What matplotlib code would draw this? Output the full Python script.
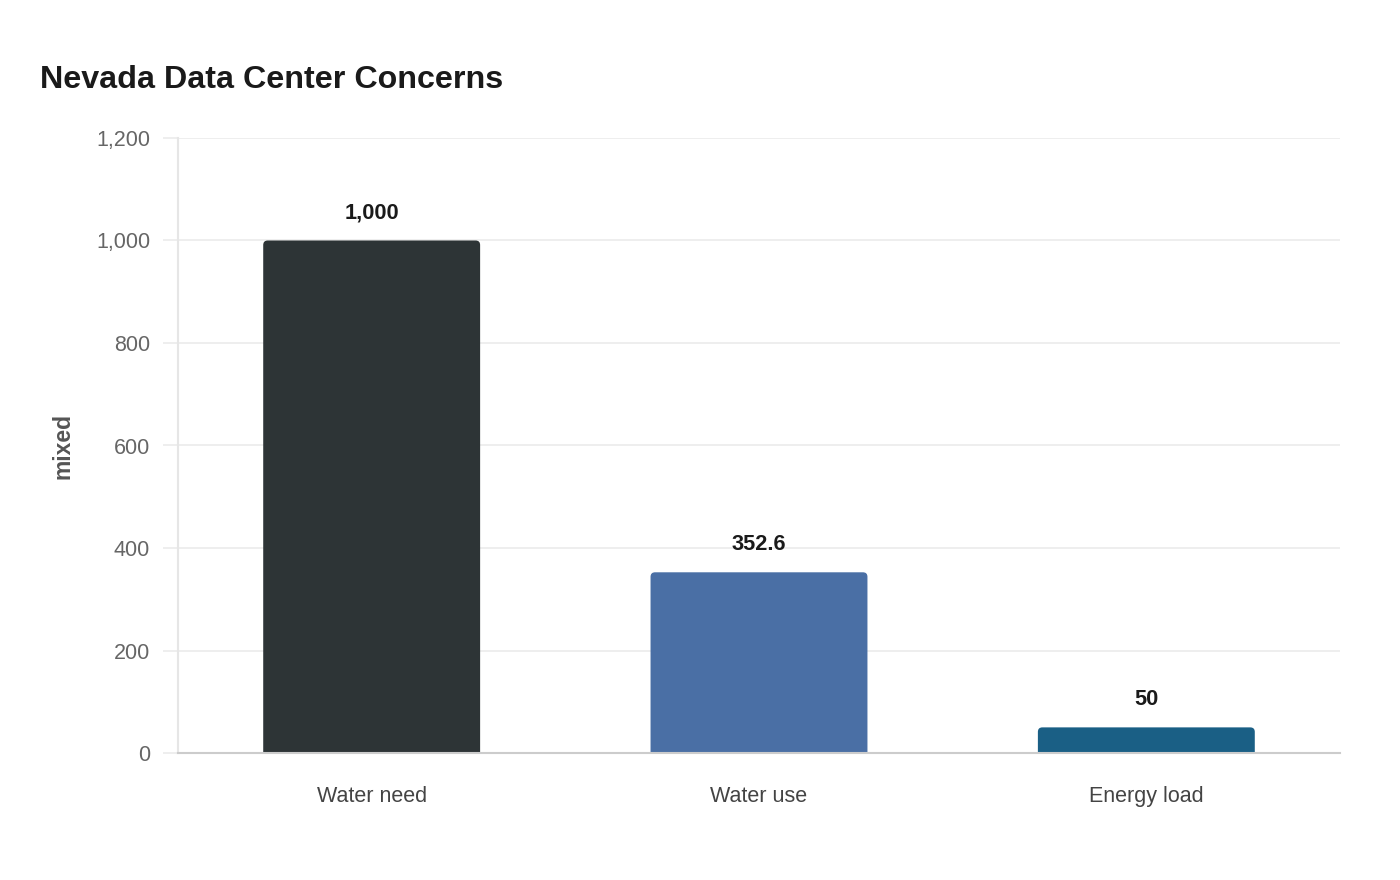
import matplotlib
matplotlib.use("Agg")
import matplotlib.pyplot as plt
from matplotlib.patches import PathPatch
from matplotlib.path import Path

plt.rcParams['font.family'] = ['Liberation Sans', 'DejaVu Sans']

categories = ["Water need", "Water use", "Energy load"]
values = [1000, 352.6, 50]
value_labels = ["1,000", "352.6", "50"]
colors = ["#2d3436", "#4a6fa5", "#1a5f85"]
yticks = [0, 200, 400, 600, 800, 1000, 1200]
ytick_labels = ["0", "200", "400", "600", "800", "1,000", "1,200"]

W, H = 1400, 880
fig = plt.figure(figsize=(14, 8.8), dpi=100)
ax = fig.add_axes([178 / W, 1 - 753 / H, (1340 - 178) / W, (753 - 138) / H])

ax.set_xlim(-0.5, len(categories) - 0.5)
ax.set_ylim(0, 1200)

bar_w = 0.56
bars = ax.bar(range(len(categories)), values, width=bar_w, color=colors, alpha=0)

# rounded top corners only
xpp = len(categories) / (1340 - 178)
ypp = 1200 / (753 - 138)
r_px = 4.5
rx, ry = r_px * xpp, r_px * ypp
for b, c in zip(bars, colors):
    x0, w, h = b.get_x(), b.get_width(), b.get_height()
    x1 = x0 + w
    verts = [(x0, 0), (x0, h - ry), (x0, h), (x0 + rx, h), (x1 - rx, h),
             (x1, h), (x1, h - ry), (x1, 0), (x0, 0)]
    codes = [Path.MOVETO, Path.LINETO, Path.CURVE3, Path.CURVE3, Path.LINETO,
             Path.CURVE3, Path.CURVE3, Path.LINETO, Path.CLOSEPOLY]
    ax.add_patch(PathPatch(Path(verts, codes), fc=c, ec="none", zorder=3))

for i, (v, lab) in enumerate(zip(values, value_labels)):
    ax.annotate(lab, (i, v), xytext=(0, 17), textcoords="offset pixels",
                ha="center", va="bottom", fontsize=15.7, fontweight="bold",
                color="#1a1a1a", zorder=4)

ax.set_xticks(range(len(categories)))
ax.set_xticklabels(categories)
ax.set_yticks(yticks)
ax.set_yticklabels(ytick_labels)

ax.grid(axis="y", color="#ebebeb", linewidth=1.2, zorder=0)
ax.set_axisbelow(True)
for s in ["top", "right"]:
    ax.spines[s].set_visible(False)
ax.spines["left"].set_color("#e6e6e6")
ax.spines["left"].set_linewidth(1.5)
ax.spines["bottom"].set_color("#cccccc")
ax.spines["bottom"].set_linewidth(1.5)
ax.spines["bottom"].set_zorder(5)

ax.tick_params(axis="y", length=11, width=1.2, color="#ebebeb", pad=9,
               labelsize=15.5, labelcolor="#666666")
ax.tick_params(axis="x", length=0, pad=24, labelsize=15.5, labelcolor="#444444")

ax.set_ylabel("mixed", fontsize=16.5, fontweight="bold", color="#555555", labelpad=15.5)

fig.text(40 / W, 1 - 80.5 / H, "Nevada Data Center Concerns", fontsize=23.2,
         fontweight="bold", color="#1a1a1a", ha="left", va="center")

fig.savefig("out.png", dpi=100, facecolor="white")
